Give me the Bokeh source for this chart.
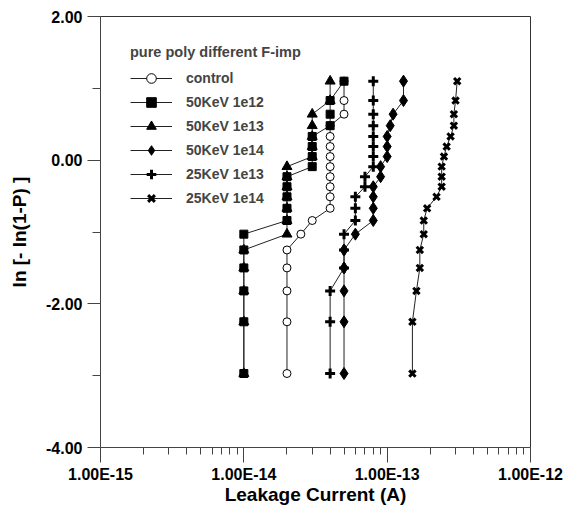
from bokeh.plotting import figure
from bokeh.models import (FixedTicker, CustomJSTickFormatter, PrintfTickFormatter,
                          Legend, LegendItem, ColumnDataSource)
from bokeh.embed import file_html
from bokeh.resources import INLINE

# ---- data ----
weibull_y = [-2.97, -2.25, -1.82, -1.50, -1.25, -1.03, -0.84, -0.67, -0.51, -0.37,
             -0.23, -0.09, 0.05, 0.19, 0.33, 0.48, 0.64, 0.83, 1.10]

control = [2.0e-14, 2.0e-14, 2.0e-14, 2.0e-14, 2.0e-14, 2.5e-14, 3.0e-14,
           4.0e-14, 4.0e-14, 4.0e-14, 4.0e-14, 4.0e-14, 4.0e-14, 4.0e-14, 4.0e-14, 4.0e-14,
           5.0e-14, 5.0e-14, 5.0e-14]
kev50_1e12 = [1.0e-14, 1.0e-14, 1.0e-14, 1.0e-14, 1.0e-14, 1.0e-14,
              2.0e-14, 2.0e-14, 2.0e-14, 2.0e-14, 2.0e-14,
              3.0e-14, 3.0e-14, 3.0e-14, 3.0e-14,
              4.0e-14, 4.0e-14, 4.0e-14, 5.0e-14]
kev50_1e13 = [1.0e-14, 1.0e-14, 1.0e-14, 1.0e-14, 1.0e-14,
              2.0e-14, 2.0e-14, 2.0e-14, 2.0e-14, 2.0e-14, 2.0e-14, 2.0e-14,
              3.0e-14, 3.0e-14, 3.0e-14, 3.0e-14, 3.0e-14,
              4.0e-14, 4.0e-14]
kev50_1e14 = [5.0e-14, 5.0e-14, 5.0e-14, 5.0e-14, 5.0e-14, 6.0e-14,
              8.0e-14, 8.0e-14, 8.0e-14, 8.0e-14, 9.0e-14, 9.0e-14,
              1.0e-13, 1.0e-13, 1.0e-13, 1.05e-13, 1.1e-13, 1.3e-13, 1.3e-13]
kev25_1e13 = [4.0e-14, 4.0e-14, 4.0e-14, 5.0e-14, 5.0e-14, 5.0e-14,
              6.0e-14, 6.0e-14, 6.0e-14, 7.0e-14, 7.0e-14,
              8.0e-14, 8.0e-14, 8.0e-14, 8.0e-14, 8.0e-14, 8.0e-14, 8.0e-14, 8.0e-14]
kev25_1e14 = [1.5e-13, 1.5e-13, 1.6e-13, 1.69e-13, 1.69e-13, 1.8e-13, 1.8e-13, 1.9e-13,
              2.21e-13, 2.4e-13, 2.4e-13, 2.4e-13, 2.49e-13, 2.6e-13, 2.77e-13,
              2.92e-13, 2.92e-13, 3.0e-13, 3.08e-13]

labels = ["control", "50KeV 1e12", "50KeV 1e13", "50KeV 1e14", "25KeV 1e13", "25KeV 1e14"]
x_major = [1e-15, 1e-14, 1e-13, 1e-12]
y_major = [-4, -2, 0, 2]
y_minor = [-3, -1, 1]

FONT = "Liberation Sans"

p = figure(width=570, height=508, x_axis_type="log", x_range=(1e-15, 1e-12),
           y_range=(-4, 2), output_backend="svg", toolbar_location=None,
           min_border_left=100, min_border_right=40, min_border_top=16,
           min_border_bottom=61)
p.xgrid.visible = False
p.ygrid.visible = False
p.outline_line_color = "#333333"
p.outline_line_width = 1
p.background_fill_color = "white"
p.border_fill_color = "white"

x_minor = [k * d for d in (1e-15, 1e-14, 1e-13) for k in range(2, 10)]
p.xaxis.ticker = FixedTicker(ticks=x_major, minor_ticks=x_minor)
p.xaxis.formatter = CustomJSTickFormatter(code="return tick.toExponential(2).toUpperCase();")
p.yaxis.ticker = FixedTicker(ticks=y_major, minor_ticks=y_minor)
p.yaxis.formatter = PrintfTickFormatter(format="%.2f")

for ax in (p.xaxis[0], p.yaxis[0]):
    ax.axis_line_color = "#444444"
    ax.major_tick_line_color = "#444444"
    ax.minor_tick_line_color = "#444444"
    ax.major_tick_in = 0
    ax.minor_tick_in = 0
    ax.major_label_text_font = FONT
    ax.major_label_text_font_style = "bold"
    ax.major_label_text_font_size = "16px"
    ax.major_label_text_color = "black"
    ax.axis_label_text_font = FONT
    ax.axis_label_text_font_style = "bold"
    ax.axis_label_text_font_size = "19px"
    ax.axis_label_text_color = "black"

p.xaxis.major_tick_out = 15
p.xaxis.minor_tick_out = 7
p.xaxis.major_label_standoff = 3
p.xaxis.axis_label = "Leakage Current (A)"
p.xaxis.axis_label_standoff = -2

p.yaxis.major_tick_out = 13
p.yaxis.minor_tick_out = 8
p.yaxis.major_label_standoff = 5
p.yaxis.axis_label = "ln [- ln(1-P) ]"
p.yaxis.axis_label_standoff = 13

LINE = "#222222"
series = {
    "control": (control, dict(marker="circle", size=8, fill_color="white", line_color="black", line_width=1)),
    "50KeV 1e13": (kev50_1e13, dict(marker="triangle", size=10, fill_color="black", line_color="black")),
    "50KeV 1e12": (kev50_1e12, dict(marker="square", size=8, fill_color="black", line_color="black")),
    "25KeV 1e13": (kev25_1e13, dict(marker="cross", size=10, line_color="black", line_width=3)),
    "50KeV 1e14": (kev50_1e14, dict(marker="diamond", size=12, fill_color="black", line_color="black")),
    "25KeV 1e14": (kev25_1e14, dict(marker="x", size=9, line_color="black", line_width=3)),
}

renderers = {}
for name, (xs, style) in series.items():
    src = ColumnDataSource(dict(x=xs, y=weibull_y))
    ln = p.line("x", "y", source=src, line_color=LINE, line_width=1)
    sc = p.scatter("x", "y", source=src, **style)
    renderers[name] = [ln, sc]

legend = Legend(items=[LegendItem(label=l, renderers=renderers[l]) for l in labels],
                location=(30, 237), title="pure poly different F-imp")
legend.title_text_font = FONT
legend.title_text_font_style = "bold"
legend.title_text_font_size = "14.5px"
legend.title_standoff = 6
legend.label_text_font = FONT
legend.label_text_font_style = "bold"
legend.label_text_font_size = "14px"
legend.glyph_width = 42
legend.glyph_height = 24
legend.label_height = 24
legend.spacing = 0
legend.label_standoff = 14
legend.padding = 0
legend.margin = 0
legend.border_line_alpha = 0
legend.background_fill_alpha = 0
p.add_layout(legend)

open("out.html", "w").write(file_html(p, INLINE))
